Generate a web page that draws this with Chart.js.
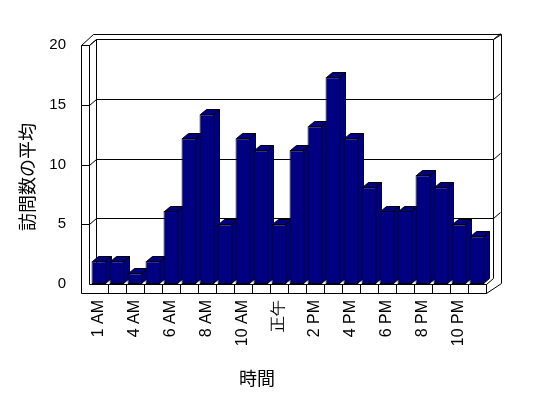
<!DOCTYPE html>
<html>
<head>
<meta charset="utf-8">
<script src="https://cdn.jsdelivr.net/npm/chart.js@4"></script>
<style>
  body{margin:0;background:#fff}
  #wrap{width:548px;height:398px}
</style>
</head>
<body>
<div id="wrap"><canvas id="myChart" width="548" height="398"></canvas></div>
<script>
var hours = ["1 AM","3 AM","4 AM","5 AM","6 AM","7 AM","8 AM","9 AM","10 AM","11 AM","正午",
             "1 PM","2 PM","3 PM","4 PM","5 PM","6 PM","7 PM","8 PM","9 PM","10 PM","11 PM"]
var visits = [1.9,1.9,0.9,1.9,6.1,12.2,14.2,5,12.2,11.2,5,11.2,13.2,17.3,12.2,8.1,6.1,6.1,9.1,8.1,5,4]
var yTicks = [0,5,10,15,20]
var xTitle = "時間"
var yTitle = "訪問数の平均"

var navy = "#000080"
var cjk = "'Noto Sans CJK JP', sans-serif"

function line(ctx, pts) {
  ctx.beginPath()
  ctx.moveTo(pts[0][0], pts[0][1])
  for (let i = 1; i < pts.length; i++) ctx.lineTo(pts[i][0], pts[i][1])
  ctx.stroke()
}

function face(ctx, pts) {
  ctx.beginPath()
  ctx.moveTo(pts[0][0], pts[0][1])
  for (let i = 1; i < pts.length; i++) ctx.lineTo(pts[i][0], pts[i][1])
  ctx.closePath()
  ctx.fill()
  ctx.stroke()
}

// walls, floor and the bar sides go under the front faces chart.js draws
var box3d = {
  id: 'box3d',
  beforeDatasetsDraw(chart) {
    let ctx = chart.ctx
    let a = chart.chartArea
    let ys = chart.scales.y
    let xs = chart.scales.x
    let L = Math.round(a.left) + 0.5, R = Math.round(a.right) + 0.5
    let T = Math.round(a.top) + 0.5, B = Math.round(a.bottom) + 0.5
    let dx = 7, dy = -6

    ctx.save()
    ctx.strokeStyle = "#000"
    ctx.lineWidth = 1
    ctx.fillStyle = "#fff"

    // back wall grid
    yTicks.forEach(v => {
      let y = Math.round(ys.getPixelForValue(v)) + 0.5
      if (v > 0) {
        line(ctx, [[L - 9, y], [L - 1, y], [L - 1 + dx, y + dy], [R + dx, y + dy], [R + 2 * dx, y + 2 * dy]])
      }
    })
    // outer top edges
    line(ctx, [[L - 9, T], [L + 3, T - 11], [R + 15, T - 11], [R + 15, B - 1]])
    line(ctx, [[L - 1, T], [L - 1 + dx, T + dy]])
    line(ctx, [[L - 9, T], [L - 1, T]])
    line(ctx, [[R + dx, T + dy], [R + 15, T - 11]])
    // wall verticals
    line(ctx, [[L - 9, T], [L - 9, B + 9]])
    line(ctx, [[L - 1, T], [L - 1, B]])
    line(ctx, [[L - 1 + dx, T + dy], [L - 1 + dx, B + dy]])
    line(ctx, [[R + dx, T + dy], [R + dx, B + dy]])

    // floor
    line(ctx, [[L - 1, B], [R, B], [R + dx, B + dy]])
    line(ctx, [[L - 9, B + 9], [R, B + 9], [R + 15, B - 1]])
    line(ctx, [[R, B], [R, B + 9]])
    let step = xs.getPixelForValue(1) - xs.getPixelForValue(0)
    for (let i = 0; i < hours.length; i++) {
      let x = Math.round(xs.getPixelForValue(i) + step / 2) + 0.5
      line(ctx, [[x, B], [x, B + 9]])
    }

    // bar tops and sides
    ctx.fillStyle = navy
    let bdx = 6, bdy = -5
    chart.getDatasetMeta(0).data.forEach(el => {
      let l = Math.round(el.x - el.width / 2) + 0.5
      let r = Math.round(el.x + el.width / 2) - 0.5
      let t = Math.round(el.y) + 0.5
      let b = Math.round(el.base) - 0.5
      face(ctx, [[r, t], [r + bdx, t + bdy], [r + bdx, b + bdy], [r, b]])
      face(ctx, [[l, t], [l + bdx, t + bdy], [r + bdx, t + bdy], [r, t]])
    })
    ctx.restore()
  },
  afterDraw(chart) {
    let ctx = chart.ctx
    let a = chart.chartArea
    ctx.save()
    ctx.fillStyle = "#000"
    ctx.font = "18px " + cjk
    ctx.textAlign = "center"
    ctx.textBaseline = "middle"
    ctx.fillText(xTitle, a.left + 167, 378)
    ctx.translate(27, a.top + 132)
    ctx.rotate(-Math.PI / 2)
    ctx.fillText(yTitle, 0, 0)
    ctx.restore()
  }
}

Chart.defaults.font.family = "'Liberation Sans', Arial, sans-serif"
Chart.defaults.color = "#000"

var ctx = document.getElementById("myChart").getContext("2d")
var myChart = new Chart(ctx, {
  type: 'bar',
  data: {
    labels: hours,
    datasets: [
      {
        label: yTitle,
        data: visits,
        backgroundColor: navy,
        borderColor: "#000",
        borderWidth: 1,
        borderSkipped: false,
        categoryPercentage: 1,
        barPercentage: 0.83
      }
    ]
  },
  options: {
    responsive: false,
    animation: false,
    devicePixelRatio: 1,
    layout: { padding: { top: 45, right: 62, left: 0, bottom: 0 } },
    plugins: {
      legend: { display: false },
      tooltip: { enabled: false }
    },
    scales: {
      x: {
        grid: { display: false, drawTicks: false },
        border: { display: false },
        afterFit(scale) { scale.height = 114 },
        ticks: {
          autoSkip: false,
          minRotation: 90,
          maxRotation: 90,
          padding: 16,
          font: { size: 16 },
          callback: function(val, index) {
            return index % 2 == 0 ? this.getLabelForValue(val) : ''
          }
        }
      },
      y: {
        min: 0,
        max: 20,
        grid: { display: false, drawTicks: false },
        border: { display: false },
        afterFit(scale) { scale.width = 90 },
        ticks: {
          stepSize: 5,
          padding: 24,
          font: { size: 15 }
        }
      }
    }
  },
  plugins: [box3d]
})
</script>
</body>
</html>
